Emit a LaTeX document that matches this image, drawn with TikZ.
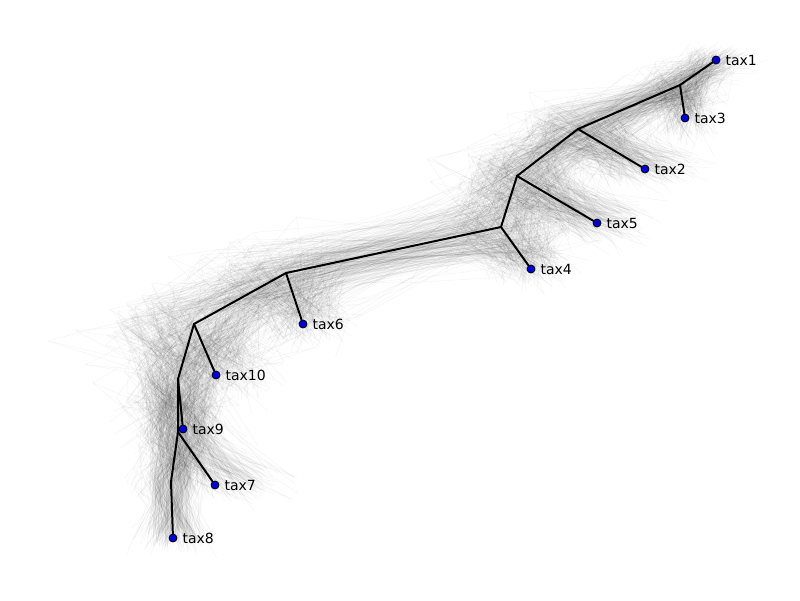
\documentclass[tikz,border=0pt]{standalone}
\usepackage{fontspec}
\setmainfont{DejaVu Sans}
\begin{document}
\begin{tikzpicture}[x=1pt,y=-1pt,
  branch/.style={draw=black,line width=2pt,line cap=round,line join=round},
  cloud/.style={draw=black,line width=0.4pt,opacity=0.05},
  leaf/.style={circle,draw=black,fill=blue!85!black,line width=0.8pt,minimum size=8pt,inner sep=0pt},
  lab/.style={font=\fontsize{14}{16}\selectfont,inner sep=0pt,anchor=west},
  declare function={jit(\s)=\s*(0.5*rand+0.9*rand*rand*rand);}
]
\path[use as bounding box] (0,0) rectangle (800,600);
\pgfmathsetseed{11}
% cloud of sampled trees
\foreach \i in {1,...,320}{
  \coordinate (q1) at ({716+jit(45)},{60+jit(25)});
  \coordinate (q3) at ({685+jit(45)},{118+jit(40)});
  \coordinate (q2) at ({645+jit(80)},{169+jit(30)});
  \coordinate (q5) at ({597+jit(80)},{223+jit(35)});
  \coordinate (q4) at ({531+jit(60)},{269+jit(30)});
  \coordinate (q6) at ({303+jit(60)},{324+jit(35)});
  \coordinate (q10) at ({216+jit(90)},{375+jit(40)});
  \coordinate (q9) at ({183+jit(80)},{429+jit(45)});
  \coordinate (q7) at ({215+jit(110)},{485+jit(30)});
  \coordinate (q8) at ({173+jit(50)},{538+jit(20)});
  \coordinate (m13) at ({680+jit(55)},{85+jit(30)});
  \coordinate (m12) at ({578+jit(90)},{129+jit(40)});
  \coordinate (m11) at ({517+jit(90)},{176+jit(50)});
  \coordinate (m10) at ({501+jit(100)},{227+jit(55)});
  \coordinate (m9) at ({286+jit(120)},{273+jit(50)});
  \coordinate (m8) at ({194+jit(130)},{324+jit(50)});
  \coordinate (m7) at ({178+jit(80)},{379+jit(50)});
  \coordinate (m6) at ({178+jit(55)},{432+jit(50)});
  \coordinate (mr) at ({171+jit(40)},{482+jit(30)});
  \draw[cloud] (q8) -- (mr) -- (m6) -- (m7) -- (m8) -- (m9) -- (m10) -- (m11) -- (m12) -- (m13) -- (q1)
    (m6) -- (q7) (m7) -- (q9) (m8) -- (q10) (m9) -- (q6) (m10) -- (q4) (m11) -- (q5) (m12) -- (q2) (m13) -- (q3);
}
% internal nodes of the consensus tree
\coordinate (n13) at (680,85);
\coordinate (n12) at (578,129);
\coordinate (n11) at (517,176);
\coordinate (n10) at (501,227);
\coordinate (n9) at (286,273);
\coordinate (n8) at (194,324);
\coordinate (n7) at (178,379);
\coordinate (n6) at (178,432);
\coordinate (nr) at (171,482);
% leaves
\node[leaf,label={[lab,label distance=5pt]0:tax1}] (t1) at (716,60) {};
\node[leaf,label={[lab,label distance=5pt]0:tax3}] (t3) at (685,118) {};
\node[leaf,label={[lab,label distance=5pt]0:tax2}] (t2) at (645,169) {};
\node[leaf,label={[lab,label distance=5pt]0:tax5}] (t5) at (597,223) {};
\node[leaf,label={[lab,label distance=5pt]0:tax4}] (t4) at (531,269) {};
\node[leaf,label={[lab,label distance=5pt]0:tax6}] (t6) at (303,324) {};
\node[leaf,label={[lab,label distance=5pt]0:tax10}] (t10) at (216,375) {};
\node[leaf,label={[lab,label distance=5pt]0:tax9}] (t9) at (183,429) {};
\node[leaf,label={[lab,label distance=5pt]0:tax7}] (t7) at (215,485) {};
\node[leaf,label={[lab,label distance=5pt]0:tax8}] (t8) at (173,538) {};
% branches
\draw[branch] (t8) -- (nr) -- (n6) -- (n7) -- (n8) -- (n9) -- (n10) -- (n11) -- (n12) -- (n13) -- (t1);
\draw[branch] (n6) -- (t7);
\draw[branch] (n7) -- (t9);
\draw[branch] (n8) -- (t10);
\draw[branch] (n9) -- (t6);
\draw[branch] (n10) -- (t4);
\draw[branch] (n11) -- (t5);
\draw[branch] (n12) -- (t2);
\draw[branch] (n13) -- (t3);
\end{tikzpicture}
\end{document}
